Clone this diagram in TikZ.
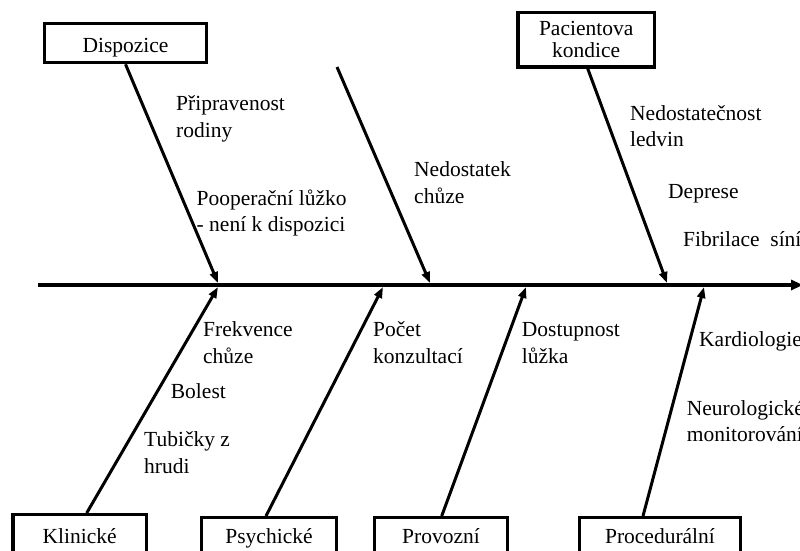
\documentclass[tikz,border=0pt]{standalone}
\usepackage{fontspec}
\setmainfont{Liberation Serif}
\usetikzlibrary{arrows.meta}
\begin{document}
\begin{tikzpicture}[x=1pt,y=-1pt,
 lbl/.style={anchor=base west, align=left, inner sep=0pt, font=\fontsize{21.5}{26.5}\selectfont},
 box/.style={draw, line width=3.2pt, inner sep=0pt, font=\fontsize{21.5}{22}\selectfont, align=center},
 botbox/.style={box, anchor=north, text depth=20pt},
 bone/.style={line width=3pt, -{Triangle[length=11pt,width=8pt]}},
 spine/.style={line width=4pt, -{Triangle[length=12pt,width=10pt]}}]
\useasboundingbox (0,0) rectangle (800,550);
\clip (0,0) rectangle (800,550);
% boxes
\node[box, minimum width=161.6pt, text height=29pt, text depth=10.5pt] (disp) at (125.5,42.9) {Dispozice};
\node[box, minimum width=136.5pt, minimum height=54.5pt] (pac) at (586.2,39.7) {Pacientova\\kondice};
\node[botbox, minimum width=133.5pt, text height=28.7pt] (klin) at (79.7,513) {Klinické};
\node[botbox, minimum width=135.3pt, text height=25.7pt] (psych) at (269,516) {Psychické};
\node[botbox, minimum width=133.6pt, text height=25.7pt] (prov) at (441,516) {Provozní};
\node[botbox, minimum width=160.4pt, text height=25.7pt] (proc) at (660,516) {Procedurální};
% spine
\coordinate (sL) at (38,285);
\coordinate (sR) at (803,285);
\draw[spine] (sL) -- (sR);
% spine points
\coordinate (t1) at (218,283);
\coordinate (t2) at (430,283);
\coordinate (t3) at (667,283);
\coordinate (b1) at (218,287);
\coordinate (b2) at (383,287);
\coordinate (b3) at (526,287);
\coordinate (b4) at (704,287);
\coordinate (free) at (337,67);
% bones
\draw[bone] (disp.south) -- (t1);
\draw[bone] (free) -- (t2);
\draw[bone] ([xshift=1.5pt]pac.south) -- (t3);
\draw[bone] ([xshift=7pt]klin.north) -- (b1);
\draw[bone] ([xshift=-3pt]psych.north) -- (b2);
\draw[bone] ([xshift=0.7pt]prov.north) -- (b3);
\draw[bone] ([xshift=-17pt]proc.north) -- (b4);
% labels (two-line labels: position is the baseline of the last line)
\node[lbl] (l1) at (176,137) {Připravenost\\rodiny};
\node[lbl] (l2) at (196.5,231.5) {Pooperační lůžko\\- není k dispozici};
\node[lbl] (l3) at (414,203.2) {Nedostatek\\chůze};
\node[lbl] (l4) at (630,146.5) {Nedostatečnost\\ledvin};
\node[lbl] (l5) at (668,198) {Deprese};
\node[lbl] (l6) at (683,246) {Fibrilace~ síní};
\node[lbl] (l7) at (203,363.2) {Frekvence\\chůze};
\node[lbl] (l8) at (170.7,398) {Bolest};
\node[lbl] (l9) at (144,473.2) {Tubičky z\\hrudi};
\node[lbl] (l10) at (373,363.2) {Počet\\konzultací};
\node[lbl] (l11) at (521.7,363.2) {Dostupnost\\lůžka};
\node[lbl] (l12) at (699,346) {Kardiologie};
\node[lbl] (l13) at (686.7,441.5) {Neurologické\\monitorování};
\end{tikzpicture}
\end{document}
